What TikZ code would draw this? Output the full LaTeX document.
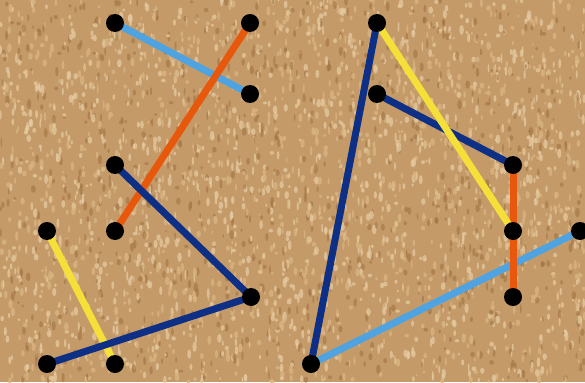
\documentclass[tikz,border=0pt]{standalone}
\definecolor{cork}{HTML}{C49A68}
\definecolor{corkL}{HTML}{E6CBA2}
\definecolor{corkD}{HTML}{9E7040}
\definecolor{corkM}{HTML}{D8B482}
\definecolor{lblue}{HTML}{4FA3E0}
\definecolor{orng}{HTML}{E8580C}
\definecolor{dblue}{HTML}{0D2F85}
\definecolor{yllw}{HTML}{F5E03A}
\tikzset{
  pin/.style={circle,fill=black,inner sep=0pt,minimum size=18pt},
  band/.style={line width=7pt}
}
\begin{document}
\begin{tikzpicture}[x=1pt,y=-1pt]
\useasboundingbox (0,0) rectangle (585,382);
\fill[cork] (0,0) rectangle (585,382);
\pgfmathsetseed{7}
\begin{scope}
\clip (0,0) rectangle (585,382);
\foreach \i in {1,...,3200}{
  \pgfmathsetmacro{\px}{585*rnd}
  \pgfmathsetmacro{\py}{382*rnd}
  \pgfmathsetmacro{\rx}{0.8+1.6*rnd}
  \pgfmathsetmacro{\ry}{1.5+3.5*rnd}
  \pgfmathsetmacro{\k}{rnd}
  \ifdim\k pt<0.4pt
    \fill[corkL,opacity=0.75] (\px,\py) ellipse [x radius=\rx, y radius=\ry];
  \else\ifdim\k pt<0.65pt
    \fill[corkD,opacity=0.55] (\px,\py) ellipse [x radius=\rx, y radius=\ry];
  \else
    \fill[corkM,opacity=0.8] (\px,\py) ellipse [x radius=\rx, y radius=\ry];
  \fi\fi
}
\end{scope}
% left group
\coordinate (A) at (115,23);
\coordinate (B) at (250,23);
\coordinate (C) at (250,94);
\coordinate (D) at (115,165);
\coordinate (E) at (47,231);
\coordinate (F) at (115,231);
\coordinate (G) at (251,297);
\coordinate (H) at (47,364);
\coordinate (I) at (115,364);
% right group
\coordinate (J) at (377,23);
\coordinate (K) at (377,94);
\coordinate (L) at (513,165);
\coordinate (M) at (513,231);
\coordinate (N) at (580,231);
\coordinate (O) at (513,297);
\coordinate (P) at (311,364);
% bands
\draw[band,lblue] (A) -- (C);
\draw[band,lblue] (P) -- (N);
\draw[band,orng] (B) -- (F);
\draw[band,orng] (L) -- (O);
\draw[band,yllw] (E) -- (I);
\draw[band,dblue] (D) -- (G);
\draw[band,dblue] (H) -- (G);
\draw[band,dblue] (J) -- (P);
\draw[band,dblue] (K) -- (L);
\draw[band,yllw] (J) -- (M);
% pins
\foreach \p in {A,B,C,D,E,F,G,H,I,J,K,L,M,N,O,P}
  \node[pin] (pin\p) at (\p) {};
\end{tikzpicture}
\end{document}
